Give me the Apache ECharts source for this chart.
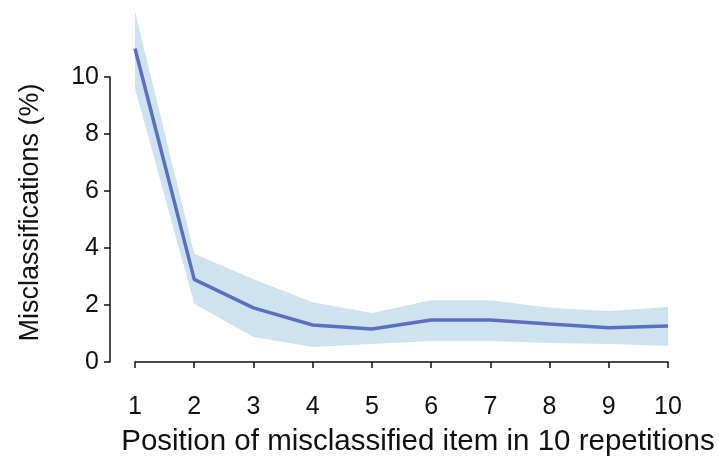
<!DOCTYPE html>
<html><head><meta charset="utf-8">
<script src="https://cdn.jsdelivr.net/npm/echarts@6/dist/echarts.min.js"></script>
<style>html,body{margin:0;padding:0;background:#fff}#c{width:719px;height:458px}</style>
</head><body><div id="c"></div>
<script>
const positions = ['1', '2', '3', '4', '5', '6', '7', '8', '9', '10'];
const meanValues = [11.0, 2.9, 1.9, 1.3, 1.16, 1.47, 1.47, 1.33, 1.2, 1.26];
const upperValues = [12.3, 3.8, 2.9, 2.1, 1.72, 2.17, 2.17, 1.9, 1.79, 1.93];
const lowerValues = [9.6, 2.04, 0.88, 0.53, 0.63, 0.74, 0.74, 0.67, 0.63, 0.56];
const yTicks = [0, 2, 4, 6, 8, 10];

const font = 'Liberation Sans, Arial, sans-serif';
const chart = echarts.init(document.getElementById('c'));
chart.setOption({
  animation: false,
  grid: { left: 135, right: 51, top: 77, bottom: 96, containLabel: false, outerBoundsMode: 'none' },
  xAxis: {
    type: 'category', data: positions, boundaryGap: false,
    offset: 18,
    name: 'Position of misclassified item in 10 repetitions',
    nameLocation: 'middle', nameGap: 47,
    nameTextStyle: { fontFamily: font, fontSize: 29.5, color: '#111', padding: [0, 0, 0, 33] },
    axisLine: { show: true, lineStyle: { color: '#111', width: 1.5 } },
    axisTick: { show: true, length: 6, alignWithLabel: true, lineStyle: { color: '#111', width: 1.5 } },
    axisLabel: { fontFamily: font, fontSize: 25, color: '#111', margin: 15, interval: 0 },
    splitLine: { show: false }
  },
  yAxis: {
    type: 'value', min: yTicks[0], max: yTicks[yTicks.length - 1], interval: 2,
    offset: 25,
    name: 'Misclassifications (%)',
    nameLocation: 'middle', nameGap: 66, nameRotate: 90,
    nameTextStyle: { fontFamily: font, fontSize: 27, color: '#111', padding: [0, 0, 0, 14] },
    axisLine: { show: true, lineStyle: { color: '#111', width: 1.5 } },
    axisTick: { show: true, length: 6, lineStyle: { color: '#111', width: 1.5 } },
    axisLabel: { fontFamily: font, fontSize: 25, color: '#111', margin: 11 },
    splitLine: { show: false }
  },
  series: [
    {
      type: 'line', stack: 'band', clip: false, symbol: 'none', silent: true,
      lineStyle: { opacity: 0 },
      data: lowerValues
    },
    {
      type: 'line', stack: 'band', clip: false, symbol: 'none', silent: true,
      lineStyle: { opacity: 0 },
      areaStyle: { color: '#cfe2f0', opacity: 1 },
      data: upperValues.map((u, i) => u - lowerValues[i])
    },
    {
      type: 'line', clip: false, symbol: 'none',
      lineStyle: { color: '#5a70be', width: 3.5 },
      data: meanValues
    }
  ]
});
</script></body></html>
